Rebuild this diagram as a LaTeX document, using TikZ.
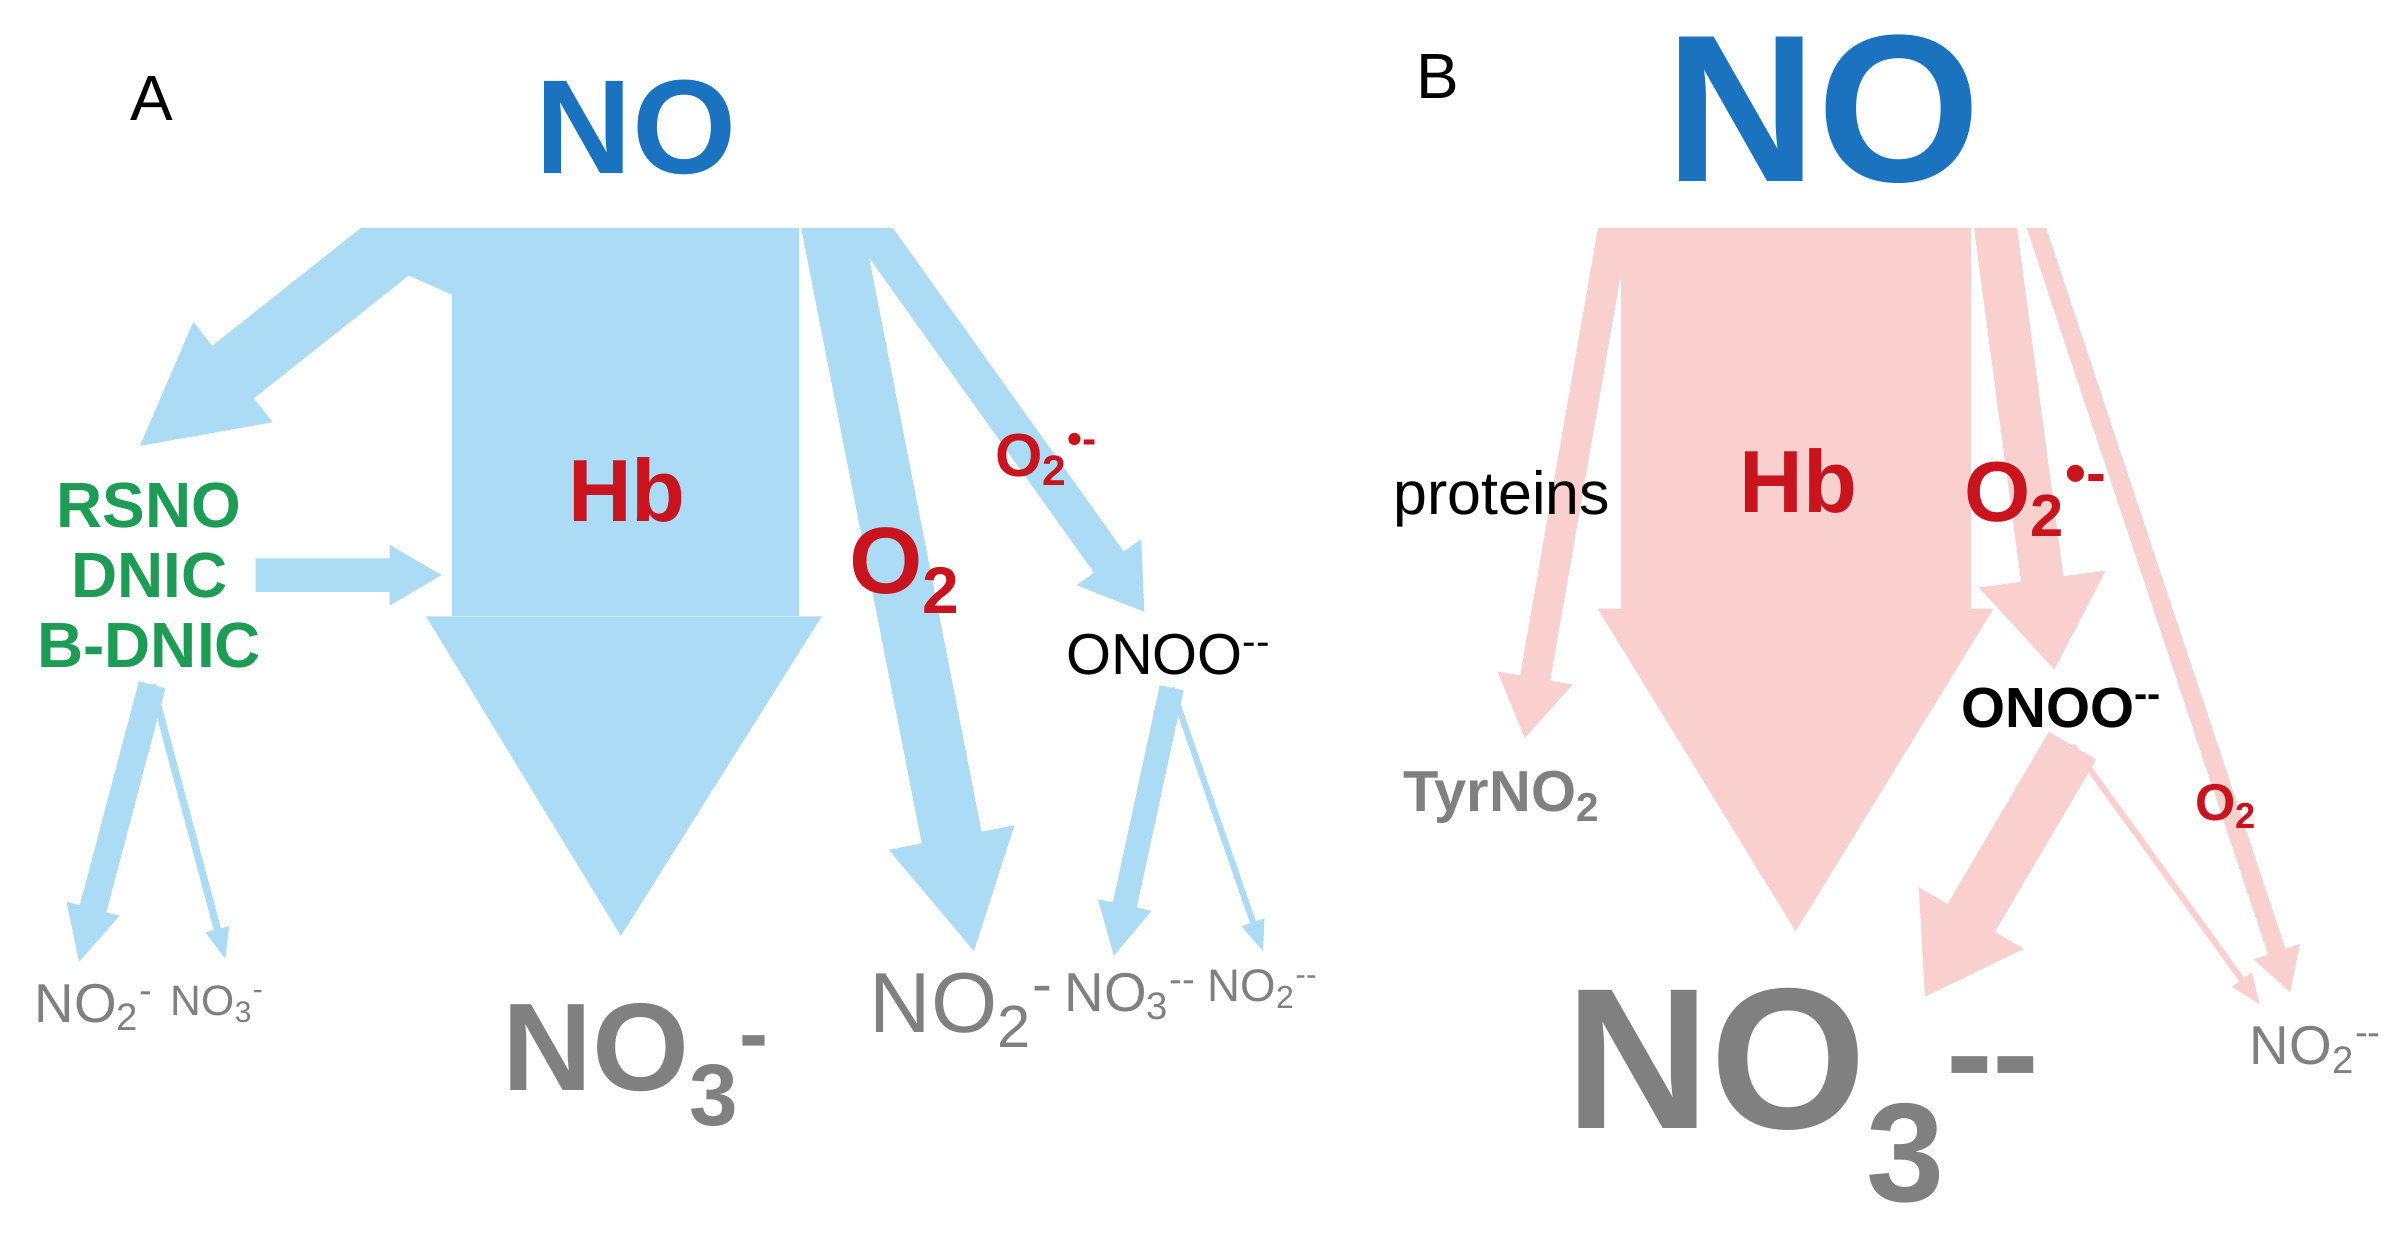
\documentclass[tikz,border=0pt]{standalone}
\usepackage{fontspec}
\setmainfont{Liberation Sans}
\usetikzlibrary{calc}
\definecolor{ablue}{HTML}{ABDBF5}
\definecolor{bpink}{HTML}{F9D0CE}
\definecolor{noblue}{HTML}{1B72BE}
\definecolor{hbred}{HTML}{C8141E}
\definecolor{grn}{HTML}{1E9B55}
\definecolor{gry}{HTML}{808080}
\newcommand\fatarr[6]{%
 \coordinate (fa-h) at ($(#2)!#5!(#1)$);
 \fill[#6] ($(#1)!#3!-90:(#2)$) -- ($(fa-h)!#3!90:(#1)$) -- ($(fa-h)!#4!90:(#1)$) -- (#2) -- ($(fa-h)!#4!-90:(#1)$) -- ($(fa-h)!#3!-90:(#1)$) -- ($(#1)!#3!90:(#2)$) -- cycle;}
\newcommand\fs[1]{\fontsize{#1}{#1}\selectfont}
\begin{document}
\begin{tikzpicture}[x=0.5pt,y=-0.5pt,
  lbl/.style={inner sep=0pt,anchor=center},
  txb/.style={lbl,font=\bfseries}]
\useasboundingbox (0,0) rectangle (1568,823);
% ---------- Panel A ----------
\coordinate (aL0) at (285,140); \coordinate (aL1) at (92,293);
\coordinate (aO0) at (545,140); \coordinate (aO1) at (640,625);
\coordinate (aS0) at (565,140); \coordinate (aS1) at (752,402);
\begin{scope}
\clip (0,150) rectangle (1568,823);
\fatarr{aL0}{aL1}{11pt}{21pt}{39pt}{ablue}
\fatarr{aO0}{aO1}{10pt}{21pt}{38pt}{ablue}
\fatarr{aS0}{aS1}{6pt}{13pt}{20pt}{ablue}
\end{scope}
\fill[ablue] (240,150) -- (300,150) -- (300,195) -- (255,175) -- cycle;
\fill[ablue] (297,150) rectangle (525,405);
\fill[ablue] (280,405) -- (540,405) -- (408,615) -- cycle;
\coordinate (aD0) at (168,378); \coordinate (aD1) at (290,378);
\fatarr{aD0}{aD1}{5.5pt}{10pt}{17pt}{ablue}
\coordinate (aB0) at (100,450); \coordinate (aB1) at (52,632); \coordinate (aB2) at (148,630);
\fatarr{aB0}{aB1}{4.5pt}{9pt}{18pt}{ablue}
\fatarr{aB0}{aB2}{1.2pt}{4pt}{10pt}{ablue}
\coordinate (aN0) at (770,452); \coordinate (aN1) at (732,628); \coordinate (aN2) at (830,625);
\fatarr{aN0}{aN1}{4pt}{9pt}{17pt}{ablue}
\fatarr{aN0}{aN2}{1pt}{4pt}{10pt}{ablue}
\node[lbl,font=\fs{21}] (A) at (100,65) {A};
\node[txb,font=\bfseries\fs{44},text=noblue] (noA) at (418,84) {NO};
\node[txb,font=\bfseries\fs{29},text=hbred] (hbA) at (412,322) {Hb};
\node[txb,font=\bfseries\fs{21},text=grn,align=center] (rsno) at (98,378) {RSNO\\[2pt]DNIC\\[2pt]B-DNIC};
\node[txb,font=\bfseries\fs{31},text=hbred] (o2A) at (595,375) {O\textsubscript{2}};
\node[txb,font=\bfseries\fs{20},text=hbred] (o2rA) at (688,302) {O\textsubscript{2}\textsuperscript{•-}};
\node[lbl,font=\fs{19}] (onooA) at (768,430) {ONOO\textsuperscript{{-}{-}}};
\node[lbl,font=\fs{18},text=gry] (no2a) at (62,662) {NO\textsubscript{2}\textsuperscript{-}};
\node[lbl,font=\fs{14},text=gry] (no3a) at (143,660) {NO\textsubscript{3}\textsuperscript{-}};
\node[txb,font=\bfseries\fs{41},text=gry] (no3A) at (418,700) {NO\textsubscript{3}\textsuperscript{-}};
\node[lbl,font=\fs{28},text=gry] (no2A) at (632,664) {NO\textsubscript{2}\textsuperscript{-}};
\node[lbl,font=\fs{18},text=gry] (no3b) at (743,655) {NO\textsubscript{3}\textsuperscript{{-}{-}}};
\node[lbl,font=\fs{15},text=gry] (no2b) at (830,650) {NO\textsubscript{2}\textsuperscript{{-}{-}}};
% ---------- Panel B ----------
\coordinate (bP0) at (1062,140); \coordinate (bP1) at (1002,485);
\coordinate (bS0) at (1310,140); \coordinate (bS1) at (1350,440);
\coordinate (bT0) at (1335,140); \coordinate (bT1) at (1505,652);
\begin{scope}
\clip (0,150) rectangle (1568,823);
\fatarr{bP0}{bP1}{5pt}{12.5pt}{20pt}{bpink}
\fatarr{bS0}{bS1}{7pt}{21pt}{30pt}{bpink}
\fatarr{bT0}{bT1}{3pt}{8pt}{14pt}{bpink}
\end{scope}
\fill[bpink] (1065,150) rectangle (1295,400);
\fill[bpink] (1050,400) -- (1310,400) -- (1180,612) -- cycle;
\coordinate (bN0) at (1362,490); \coordinate (bN1) at (1265,655); \coordinate (bN2) at (1485,660);
\fatarr{bN0}{bN1}{9pt}{20pt}{30pt}{bpink}
\fatarr{bN0}{bN2}{1pt}{4pt}{10pt}{bpink}
\node[lbl,font=\fs{21}] (B) at (945,50) {B};
\node[txb,font=\bfseries\fs{69},text=noblue] (noB) at (1198,72) {NO};
\node[txb,font=\bfseries\fs{29},text=hbred] (hbB) at (1182,316) {Hb};
\node[lbl,font=\fs{20}] (prot) at (987,328) {proteins};
\node[txb,font=\bfseries\fs{28},text=hbred] (o2rB) at (1338,328) {O\textsubscript{2}\textsuperscript{•-}};
\node[txb,font=\bfseries\fs{18.6}] (onooB) at (1355,465) {ONOO\textsuperscript{{-}{-}}};
\node[txb,font=\bfseries\fs{19},text=gry] (tyr) at (987,524) {TyrNO\textsubscript{2}};
\node[txb,font=\bfseries\fs{17},text=hbred] (o2B) at (1463,530) {O\textsubscript{2}};
\node[txb,font=\bfseries\fs{66},text=gry] (no3B) at (1185,720) {NO\textsubscript{3}\textsuperscript{{-}{-}}};
\node[lbl,font=\fs{18},text=gry] (no2B) at (1522,690) {NO\textsubscript{2}\textsuperscript{{-}{-}}};
\end{tikzpicture}
\end{document}
